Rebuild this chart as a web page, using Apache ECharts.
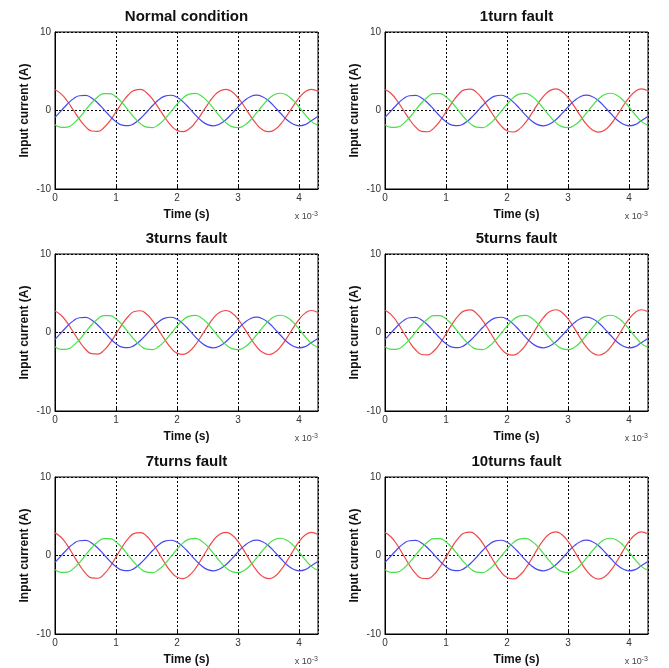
<!DOCTYPE html>
<html>
<head>
<meta charset="utf-8">
<script src="https://cdn.jsdelivr.net/npm/echarts@6/dist/echarts.min.js"></script>
<style>
  html, body { margin: 0; padding: 0; background: #fff; }
  #chart { width: 669px; height: 668px; }
</style>
</head>
<body>
<div id="chart"></div>
<script>
// time in units of 10^-3 s
var time = [0, 0.1, 0.2, 0.3, 0.4, 0.5, 0.6, 0.7, 0.8, 0.9, 1.0, 1.1, 1.2, 1.3, 1.4, 1.5, 1.6, 1.7, 1.8, 1.9, 2.0, 2.1,
  2.2, 2.3, 2.4, 2.5, 2.6, 2.7, 2.8, 2.9, 3.0, 3.1, 3.2, 3.3, 3.4, 3.5, 3.6, 3.7, 3.8, 3.9, 4.0, 4.1, 4.2, 4.3];

var titles = ['Normal condition', '1turn fault', '3turns fault', '5turns fault', '7turns fault', '10turns fault'];
var xTicks = [0, 1, 2, 3, 4];
var yTicks = [-10, 0, 10];

// phase A (red), one per panel
var redNormal = [2.64, 2.12, 1.21, 0.06, -1.10, -2.05, -2.61, -2.66, -2.20, -1.31, -0.18, 0.99, 1.97, 2.57, 2.68, 2.27, 1.42, 0.30, -0.88, -1.89, -2.53, -2.69,
  -2.33, -1.52, -0.42, 0.76, 1.80, 2.49, 2.70, 2.39, 1.62, 0.54, -0.65, -1.71, -2.44, -2.70, -2.44, -1.71, -0.65, 0.53, 1.61, 2.38, 2.70, 2.49];
var red1turn = [2.68, 2.16, 1.23, 0.06, -1.12, -2.09, -2.65, -2.71, -2.24, -1.34, -0.18, 1.01, 2.01, 2.62, 2.73, 2.31, 1.44, 0.31, -0.90, -1.92, -2.58, -2.74,
  -2.37, -1.55, -0.43, 0.78, 1.83, 2.53, 2.75, 2.43, 1.65, 0.55, -0.66, -1.74, -2.48, -2.75, -2.49, -1.75, -0.67, 0.54, 1.64, 2.43, 2.75, 2.54];
var red3turns = [2.73, 2.20, 1.25, 0.06, -1.14, -2.13, -2.70, -2.76, -2.28, -1.36, -0.18, 1.03, 2.04, 2.67, 2.77, 2.35, 1.47, 0.31, -0.91, -1.96, -2.63, -2.79,
  -2.41, -1.58, -0.43, 0.79, 1.87, 2.58, 2.80, 2.48, 1.68, 0.56, -0.67, -1.77, -2.53, -2.80, -2.53, -1.78, -0.68, 0.55, 1.67, 2.47, 2.80, 2.58];
var red5turns = [2.83, 2.28, 1.30, 0.06, -1.18, -2.20, -2.80, -2.85, -2.36, -1.41, -0.19, 1.06, 2.12, 2.76, 2.87, 2.43, 1.52, 0.32, -0.95, -2.03, -2.72, -2.89,
  -2.50, -1.63, -0.45, 0.82, 1.93, 2.67, 2.90, 2.56, 1.74, 0.58, -0.70, -1.84, -2.62, -2.90, -2.62, -1.84, -0.70, 0.57, 1.73, 2.56, 2.90, 2.67];
var red7turns = [2.88, 2.32, 1.32, 0.06, -1.20, -2.24, -2.85, -2.90, -2.40, -1.44, -0.19, 1.08, 2.15, 2.81, 2.92, 2.48, 1.55, 0.33, -0.96, -2.06, -2.77, -2.94,
  -2.54, -1.66, -0.46, 0.83, 1.97, 2.72, 2.95, 2.61, 1.77, 0.59, -0.71, -1.87, -2.66, -2.95, -2.67, -1.87, -0.71, 0.58, 1.76, 2.60, 2.95, 2.72];
var red10turns = [2.93, 2.36, 1.34, 0.07, -1.22, -2.28, -2.90, -2.95, -2.44, -1.46, -0.20, 1.10, 2.19, 2.86, 2.97, 2.52, 1.58, 0.33, -0.98, -2.10, -2.81, -2.99,
  -2.59, -1.69, -0.47, 0.85, 2.00, 2.76, 3.00, 2.65, 1.80, 0.60, -0.72, -1.90, -2.71, -3.00, -2.71, -1.91, -0.73, 0.59, 1.79, 2.65, 3.00, 2.77];

// phases B (blue) and C (green) look the same in every panel
var blue = [-0.87, -0.04, 0.80, 1.48, 1.88, 1.92, 1.59, 0.95, 0.13, -0.72, -1.42, -1.86, -1.93, -1.64, -1.02, -0.22, 0.64, 1.36, 1.83, 1.94, 1.68, 1.10,
  0.30, -0.55, -1.30, -1.80, -1.95, -1.72, -1.17, -0.39, 0.47, 1.23, 1.76, 1.95, 1.76, 1.24, 0.47, -0.38, -1.17, -1.72, -1.95, -1.80, -1.30, -0.80];
var green = [-1.79, -2.16, -2.12, -1.67, -0.90, 0.05, 0.99, 1.73, 2.15, 2.15, 1.73, 0.99, 0.05, -0.90, -1.67, -2.12, -2.17, -1.79, -1.07, -0.15, 0.81, 1.61,
  2.09, 2.18, 1.85, 1.16, 0.24, -0.72, -1.54, -2.06, -2.19, -1.90, -1.24, -0.34, 0.62, 1.47, 2.03, 2.20, 1.95, 1.32, 0.44, -0.53, -1.39, -1.85];

var reds = [redNormal, red1turn, red3turns, red5turns, red7turns, red10turns];

var chart = echarts.init(document.getElementById('chart'));

var lefts = [55, 385];
var tops = [32, 254, 477];
var W = 263, H = 157;

var grids = [], xAxes = [], yAxes = [], series = [], graphics = [];

function pairs(arr) {
  return time.map(function (t, j) { return [t, arr[j]]; });
}

for (var i = 0; i < 6; i++) {
  var L = lefts[i % 2], T = tops[Math.floor(i / 2)];
  grids.push({ left: L, top: T, width: W, height: H, show: true, borderColor: '#000', borderWidth: 1, backgroundColor: '#fff' });
  xAxes.push({
    gridIndex: i, type: 'value', min: 0, max: 4.31, interval: 1,
    name: 'Time (s)', nameLocation: 'middle', nameGap: 20,
    nameTextStyle: { fontFamily: 'Liberation Sans', fontWeight: 'bold', fontSize: 12, color: '#111' },
    axisLine: { show: true, onZero: false, lineStyle: { color: '#000', width: 1 } },
    axisTick: { show: true, inside: true, length: 3, lineStyle: { color: '#000' } },
    axisLabel: { fontFamily: 'Liberation Sans', fontSize: 10, color: '#333', margin: 4, showMaxLabel: false,
      formatter: function (v) { return xTicks.indexOf(v) >= 0 ? String(v) : ''; } },
    splitLine: { show: true, lineStyle: { color: '#000', type: [2, 2], width: 1 } }
  });
  yAxes.push({
    gridIndex: i, type: 'value', min: -10, max: 10, interval: 10,
    name: 'Input current (A)', nameLocation: 'middle', nameGap: 24, nameRotate: 90,
    nameTextStyle: { fontFamily: 'Liberation Sans', fontWeight: 'bold', fontSize: 12, color: '#111' },
    axisLine: { show: true, lineStyle: { color: '#000', width: 1 } },
    axisTick: { show: true, inside: true, length: 3, lineStyle: { color: '#000' } },
    axisLabel: { fontFamily: 'Liberation Sans', fontSize: 10, color: '#333', margin: 4,
      formatter: function (v) { return yTicks.indexOf(v) >= 0 ? String(v) : ''; } },
    splitLine: { show: true, lineStyle: { color: '#000', type: [2, 2], width: 1 } }
  });
  var phases = [[reds[i], '#f04848'], [blue, '#4848f0'], [green, '#48e048']];
  phases.forEach(function (p) {
    series.push({
      type: 'line', xAxisIndex: i, yAxisIndex: i, data: pairs(p[0]),
      showSymbol: false, smooth: true, lineStyle: { color: p[1], width: 1.2 }, z: 3
    });
  });
  graphics.push({
    type: 'text', x: L + W / 2, y: T - 15,
    style: { text: titles[i], fontFamily: 'Liberation Sans', fontWeight: 'bold', fontSize: 15, fill: '#111',
      textAlign: 'center', textVerticalAlign: 'middle' }
  });
  graphics.push({
    type: 'text', x: L + W, y: T + H + 28,
    style: { text: '{a|x 10}{b|-3}', textAlign: 'right', textVerticalAlign: 'middle',
      rich: { a: { fontFamily: 'Liberation Sans', fontSize: 9, fill: '#444' },
              b: { fontFamily: 'Liberation Sans', fontSize: 7, fill: '#444', verticalAlign: 'top', padding: [0, 0, 6, 0] } } }
  });
}

chart.setOption({
  animation: false,
  backgroundColor: '#fff',
  grid: grids,
  xAxis: xAxes,
  yAxis: yAxes,
  series: series,
  graphic: graphics
});
</script>
</body>
</html>
